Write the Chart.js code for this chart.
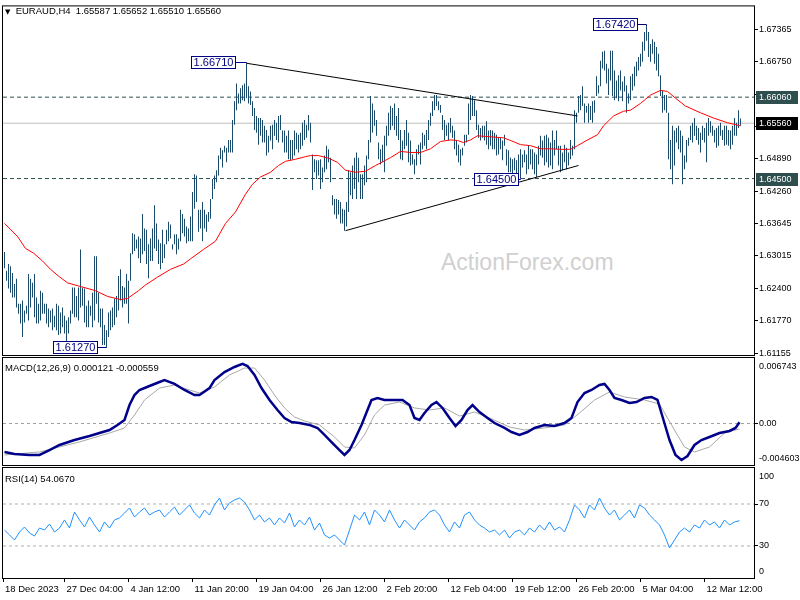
<!DOCTYPE html>
<html>
<head>
<meta charset="utf-8">
<script src="https://cdn.jsdelivr.net/npm/chart.js@4.4.1/dist/chart.umd.min.js"></script>
<style>
    body { margin: 0; background: #fff; }
    #wrap { position: relative; width: 800px; height: 600px; background: #fff; overflow: hidden; font-family: "Liberation Sans", Arial, sans-serif; }
    canvas { position: absolute; left: 0; }
    .titulo { position: absolute; font-size: 9.5px; line-height: 11px; color: #000; white-space: pre; }
    #marca { position: absolute; left: 441px; top: 249px; font-size: 23px; line-height: 26px; color: #d0d0d0; }
</style>
</head>
<body>
<div id="wrap">
    <div id="marca">ActionForex.com</div>
    <canvas id="cPreco" width="800" height="362" style="top:0"></canvas>
    <canvas id="cMacd" width="800" height="112" style="top:355px"></canvas>
    <canvas id="cRsi" width="800" height="134" style="top:466px"></canvas>
    <div class="titulo" style="left:5px;top:5px"><span style="font-family:'DejaVu Sans';font-size:7px">▼</span>  EURAUD,H4  1.65587 1.65652 1.65510 1.65560</div>
    <div class="titulo" style="left:5px;top:362px">MACD(12,26,9) 0.000121 -0.000559</div>
    <div class="titulo" style="left:5px;top:473px">RSI(14) 54.0670</div>
</div>
<script>
// EURAUD H4 — barras (índice 0 = primeira barra visível)
const highs = [
    1.6309,1.6273,1.6286,1.6282,1.6269,1.6248,1.6258,1.6210,1.6210,1.6216,
    1.6197,1.6206,1.6267,1.6258,1.6250,1.6267,1.6222,1.6210,1.6235,1.6231,
    1.6210,1.6210,1.6201,1.6197,1.6201,1.6187,1.6210,1.6206,1.6193,1.6203,
    1.6187,1.6178,1.6184,1.6197,1.6241,1.6241,1.6225,1.6241,1.6314,1.6241,
    1.6239,1.6206,1.6216,1.6206,1.6231,1.6301,1.6301,1.6231,1.6201,1.6201,
    1.6169,1.6159,1.6193,1.6197,1.6203,1.6220,1.6225,1.6263,1.6276,1.6244,
    1.6241,1.6267,1.6254,1.6307,1.6345,1.6343,1.6333,1.6339,1.6335,1.6382,
    1.6354,1.6352,1.6324,1.6335,1.6354,1.6399,1.6364,1.6333,1.6326,1.6352,
    1.6324,1.6352,1.6367,1.6362,1.6324,1.6343,1.6343,1.6335,1.6390,1.6382,
    1.6373,1.6358,1.6354,1.6377,1.6424,1.6458,1.6456,1.6390,1.6390,1.6405,
    1.6390,1.6381,1.6386,1.6411,1.6449,1.6456,1.6466,1.6494,1.6509,1.6504,
    1.6513,1.6509,1.6524,1.6524,1.6562,1.6598,1.6632,1.6613,1.6623,1.6629,
    1.6632,1.6671,1.6627,1.6617,1.6598,1.6585,1.6570,1.6566,1.6566,1.6562,
    1.6551,1.6543,1.6532,1.6551,1.6553,1.6562,1.6557,1.6570,1.6572,1.6542,
    1.6542,1.6532,1.6542,1.6524,1.6524,1.6542,1.6538,1.6534,1.6538,1.6557,
    1.6562,1.6553,1.6572,1.6557,1.6496,1.6487,1.6485,1.6485,1.6487,1.6471,
    1.6494,1.6513,1.6506,1.6490,1.6418,1.6411,1.6411,1.6409,1.6405,1.6392,
    1.6390,1.6405,1.6466,1.6462,1.6475,1.6490,1.6500,1.6490,1.6458,1.6458,
    1.6475,1.6494,1.6524,1.6608,1.6594,1.6581,1.6562,1.6519,1.6506,1.6515,
    1.6532,1.6551,1.6576,1.6589,1.6585,1.6594,1.6570,1.6585,1.6543,1.6523,
    1.6543,1.6562,1.6538,1.6523,1.6496,1.6487,1.6506,1.6515,1.6519,1.6538,
    1.6534,1.6543,1.6562,1.6576,1.6598,1.6610,1.6610,1.6598,1.6591,1.6572,
    1.6562,1.6553,1.6557,1.6566,1.6551,1.6542,1.6524,1.6515,1.6506,1.6509,
    1.6534,1.6534,1.6594,1.6610,1.6608,1.6600,1.6581,1.6553,1.6547,1.6551,
    1.6551,1.6560,1.6542,1.6543,1.6542,1.6538,1.6534,1.6528,1.6528,1.6523,
    1.6534,1.6506,1.6504,1.6490,1.6487,1.6490,1.6485,1.6496,1.6506,1.6496,
    1.6504,1.6496,1.6513,1.6506,1.6506,1.6500,1.6496,1.6513,1.6532,1.6523,
    1.6532,1.6534,1.6528,1.6519,1.6542,1.6524,1.6542,1.6513,1.6513,1.6500,
    1.6515,1.6509,1.6500,1.6524,1.6513,1.6581,1.6576,1.6608,1.6610,1.6627,
    1.6594,1.6589,1.6594,1.6589,1.6598,1.6600,1.6646,1.6629,1.6676,1.6693,
    1.6695,1.6670,1.6661,1.6695,1.6695,1.6657,1.6638,1.6648,1.6657,1.6636,
    1.6646,1.6629,1.6613,1.6646,1.6651,1.6665,1.6674,1.6683,1.6689,1.6712,
    1.6731,1.6742,1.6731,1.6708,1.6717,1.6712,1.6702,1.6689,1.6648,1.6619,
    1.6610,1.6610,1.6576,1.6524,1.6551,1.6542,1.6547,1.6551,1.6542,1.6532,
    1.6494,1.6524,1.6528,1.6551,1.6557,1.6566,1.6551,1.6547,1.6538,1.6551,
    1.6547,1.6557,1.6566,1.6560,1.6551,1.6543,1.6547,1.6551,1.6557,1.6543,
    1.6551,1.6551,1.6543,1.6542,1.6551,1.6566,1.6557,1.6581,1.65652
]
const lows = [
    1.6278,1.6254,1.6239,1.6231,1.6222,1.6222,1.6203,1.6191,1.6172,1.6146,
    1.6174,1.6191,1.6178,1.6203,1.6222,1.6184,1.6172,1.6172,1.6178,1.6191,
    1.6191,1.6172,1.6165,1.6174,1.6159,1.6165,1.6159,1.6150,1.6153,1.6165,
    1.6153,1.6136,1.6153,1.6172,1.6191,1.6184,1.6184,1.6178,1.6203,1.6206,
    1.6174,1.6165,1.6165,1.6187,1.6165,1.6178,1.6210,1.6174,1.6165,1.6131,
    1.6131,1.6127,1.6146,1.6159,1.6165,1.6169,1.6184,1.6197,1.6216,1.6203,
    1.6210,1.6210,1.6172,1.6254,1.6305,1.6311,1.6316,1.6297,1.6288,1.6305,
    1.6311,1.6286,1.6259,1.6292,1.6292,1.6316,1.6311,1.6286,1.6276,1.6288,
    1.6297,1.6324,1.6330,1.6335,1.6314,1.6324,1.6305,1.6314,1.6330,1.6345,
    1.6339,1.6326,1.6330,1.6330,1.6330,1.6392,1.6405,1.6348,1.6354,1.6330,
    1.6354,1.6348,1.6367,1.6373,1.6411,1.6430,1.6443,1.6456,1.6487,1.6471,
    1.6500,1.6481,1.6500,1.6500,1.6500,1.6553,1.6581,1.6594,1.6594,1.6600,
    1.6598,1.6604,1.6594,1.6591,1.6570,1.6543,1.6538,1.6515,1.6532,1.6519,
    1.6519,1.6494,1.6500,1.6523,1.6506,1.6532,1.6524,1.6519,1.6543,1.6519,
    1.6500,1.6500,1.6487,1.6485,1.6487,1.6494,1.6506,1.6500,1.6506,1.6513,
    1.6524,1.6528,1.6542,1.6519,1.6428,1.6462,1.6449,1.6456,1.6430,1.6443,
    1.6462,1.6468,1.6481,1.6443,1.6399,1.6381,1.6373,1.6381,1.6364,1.6364,
    1.6350,1.6358,1.6386,1.6418,1.6411,1.6430,1.6411,1.6443,1.6411,1.6411,
    1.6437,1.6443,1.6487,1.6519,1.6538,1.6551,1.6532,1.6487,1.6477,1.6481,
    1.6462,1.6513,1.6532,1.6543,1.6551,1.6543,1.6532,1.6524,1.6487,1.6485,
    1.6506,1.6513,1.6481,1.6475,1.6477,1.6458,1.6475,1.6496,1.6477,1.6506,
    1.6513,1.6506,1.6524,1.6551,1.6570,1.6581,1.6589,1.6581,1.6576,1.6543,
    1.6524,1.6532,1.6523,1.6538,1.6528,1.6506,1.6494,1.6481,1.6475,1.6494,
    1.6513,1.6519,1.6534,1.6562,1.6570,1.6570,1.6543,1.6528,1.6523,1.6528,
    1.6523,1.6515,1.6506,1.6513,1.6506,1.6506,1.6494,1.6496,1.6506,1.6485,
    1.6513,1.6475,1.6462,1.6462,1.6456,1.6466,1.6458,1.6458,1.6450,1.6471,
    1.6481,1.6458,1.6468,1.6477,1.6468,1.6458,1.6453,1.6477,1.6494,1.6490,
    1.6475,1.6481,1.6471,1.6475,1.6468,1.6494,1.6506,1.6475,1.6462,1.6466,
    1.6481,1.6468,1.6475,1.6487,1.6494,1.6506,1.6557,1.6576,1.6581,1.6589,
    1.6557,1.6576,1.6557,1.6562,1.6557,1.6576,1.6608,1.6613,1.6627,1.6661,
    1.6657,1.6632,1.6610,1.6638,1.6608,1.6600,1.6604,1.6598,1.6619,1.6598,
    1.6617,1.6576,1.6594,1.6600,1.6619,1.6627,1.6646,1.6657,1.6665,1.6674,
    1.6695,1.6714,1.6683,1.6674,1.6689,1.6670,1.6657,1.6646,1.6608,1.6576,
    1.6581,1.6576,1.6487,1.6468,1.6439,1.6475,1.6519,1.6506,1.6500,1.6439,
    1.6468,1.6481,1.6513,1.6524,1.6519,1.6532,1.6524,1.6515,1.6500,1.6524,
    1.6519,1.6481,1.6532,1.6538,1.6532,1.6519,1.6509,1.6513,1.6532,1.6524,
    1.6513,1.6515,1.6513,1.6506,1.6515,1.6532,1.6532,1.6547,1.6551
]

// média móvel (linha vermelha)
const mediaBars = [0,6.5,10.5,14.5,19,23,27,31.5,38,45.5,51.5,58,61.5,67,70.5,76.5,83,89.5,93,99.5,105.5,110.5,115.5,120.5,124,128,133,137,140.5,145.5,150.5,153,157,162,166.5,170.5,175.5,180.5,185.5,193,198,203,208,213,218,223,226.5,229.5,233,236.5,243,249.5,253,258,263,268,273,278,283,286.5,291.5,296.5,299.5,304.5,309.5,313,318,323,328,331.5,335.5,340.5,348,354.5,361.5,368]
const mediaVals = [1.6364,1.6339,1.6316,1.6307,1.6292,1.6276,1.6263,1.6250,1.6243,1.6235,1.6224,1.6218,1.6220,1.6235,1.6246,1.6261,1.6276,1.6286,1.6296,1.6314,1.6330,1.6364,1.6386,1.6420,1.6439,1.6453,1.6462,1.6475,1.6483,1.6487,1.6492,1.6494,1.6494,1.6489,1.6481,1.6466,1.6462,1.6464,1.6475,1.6490,1.6502,1.6500,1.6500,1.6507,1.6521,1.6524,1.6523,1.6519,1.6524,1.6532,1.6530,1.6528,1.6523,1.6515,1.6513,1.6507,1.6507,1.6506,1.6506,1.6513,1.6524,1.6534,1.6551,1.6570,1.6579,1.6581,1.6594,1.6610,1.6619,1.6617,1.6604,1.6589,1.6576,1.6566,1.6557,1.6551]

// MACD(12,26,9): linha principal e sinal
const macdBars = [0,5,12.5,17.5,22.5,27.5,35,42.5,47.5,52.5,56.5,60,62.5,65,67.5,72.5,77.5,80,85,90,95,97.5,102.5,105,110,115,119,121.5,125,128.5,132.5,136.5,140,143.5,147.5,152.5,156.5,160,164,167.5,170,172.5,175,178.5,181.5,183.5,186.5,190,195,199,202.5,205,207.5,210,213.5,216,219,222.5,225.5,228.5,231.5,234,237.5,241.5,245,250,253.5,257.5,261.5,265,270,275,280,283.5,286.5,290,293.5,297.5,300,302.5,305,308.5,312.5,316,320,323.5,326.5,329.5,332.5,335.5,338.5,341.5,345,348.5,352.5,357.5,362.5,365.5,367.5]
const macdVals = [-0.00293,-0.00314,-0.00324,-0.00324,-0.00273,-0.00221,-0.00170,-0.00129,-0.00098,-0.00067,-0.00015,0.00036,0.00190,0.00293,0.00345,0.00386,0.00427,0.00448,0.00407,0.00345,0.00293,0.00293,0.00365,0.00448,0.00530,0.00582,0.00613,0.00592,0.00499,0.00365,0.00242,0.00139,0.00057,0.00015,0.00005,-0.00015,-0.00046,-0.00118,-0.00201,-0.00273,-0.00324,-0.00273,-0.00170,-0.00015,0.00139,0.00242,0.00263,0.00242,0.00242,0.00242,0.00190,0.00057,0.00036,0.00108,0.00190,0.00221,0.00160,0.00057,-0.00026,0.00036,0.00139,0.00190,0.00118,0.00057,0.00005,-0.00046,-0.00088,-0.00118,-0.00088,-0.00046,-0.00015,-0.00026,0.00005,0.00057,0.00221,0.00314,0.00345,0.00396,0.00407,0.00345,0.00263,0.00242,0.00211,0.00221,0.00263,0.00273,0.00242,0.00036,-0.00170,-0.00324,-0.00376,-0.00335,-0.00221,-0.00170,-0.00139,-0.00098,-0.00077,-0.00046,0.00012]
const sinalBars = [0,17.5,37.5,52.5,60,65,70,77.5,85,92.5,97.5,105,112.5,120,125,130,135,140,145,150,157.5,165,170,175,180,185,190,197.5,205,212.5,220,227.5,235,242.5,252.5,260,270,280,287.5,295,302.5,310,320,327.5,333.5,340,345,352.5,360,367.5]
const sinalVals = [-0.00324,-0.00293,-0.00190,-0.00098,-0.00046,0.00088,0.00242,0.00365,0.00396,0.00345,0.00314,0.00376,0.00499,0.00571,0.00571,0.00448,0.00293,0.00160,0.00067,0.00026,-0.00015,-0.00139,-0.00242,-0.00252,-0.00118,0.00088,0.00190,0.00221,0.00160,0.00139,0.00160,0.00077,0.00118,0.00057,-0.00036,-0.00067,-0.00046,-0.00015,0.00108,0.00242,0.00324,0.00273,0.00242,0.00201,-0.00015,-0.00242,-0.00293,-0.00242,-0.00098,-0.00056]

// RSI(14), lido a cada 2,5 barras
const rsiBars = [
    0,2.5,5,7.5,10,12.5,15,17.5,20,22.5,25,27.5,30,32.5,35,37.5,40,42.5,45,47.5,
    50,52.5,55,57.5,60,62.5,65,67.5,70,72.5,75,77.5,80,82.5,85,87.5,90,92.5,95,97.5,
    100,102.5,105,107.5,110,112.5,115,117.5,120,122.5,125,127.5,130,132.5,135,137.5,140,142.5,145,147.5,
    150,152.5,155,157.5,160,162.5,165,167.5,170,172.5,175,177.5,180,182.5,185,187.5,190,192.5,195,197.5,
    200,202.5,205,207.5,210,212.5,215,217.5,220,222.5,225,227.5,230,232.5,235,237.5,240,242.5,245,247.5,
    250,252.5,255,257.5,260,262.5,265,267.5,270,272.5,275,277.5,280,282.5,285,287.5,290,292.5,295,297.5,
    300,302.5,305,307.5,310,312.5,315,317.5,320,322.5,325,327.5,330,332.5,335,337.5,340,342.5,345,347.5,
    350,352.5,355,357.5,360,362.5,365,367.5
]
const rsiVals = [
    45.2,40.5,35.7,43.3,48.1,42.4,39.5,47.1,45.2,50.9,
    43.3,47.1,54.8,47.1,62.4,54.8,48.1,57.6,50.0,43.3,
    52.9,47.1,54.8,56.7,61.4,66.2,57.6,62.4,66.2,59.5,
    62.4,64.3,57.6,62.4,67.1,59.5,64.3,69.1,61.4,56.7,
    64.3,59.5,69.1,75.7,64.3,71.0,73.8,75.7,71.9,64.3,
    54.8,59.5,52.9,56.7,50.0,56.7,51.9,61.4,48.1,54.8,
    50.0,57.6,45.2,51.9,40.5,37.6,40.5,35.7,30.9,45.2,
    59.5,54.8,62.4,50.0,64.3,59.5,52.9,64.3,54.8,47.1,
    54.8,50.0,45.2,52.9,56.7,62.4,64.3,59.5,50.0,43.3,
    52.9,47.1,59.5,62.4,54.8,50.0,47.1,43.3,45.2,40.5,
    45.2,37.6,43.3,45.2,40.5,47.1,43.3,50.0,45.2,52.9,
    45.2,48.1,43.3,54.8,69.1,64.3,56.7,69.1,64.3,75.7,
    66.2,59.5,64.3,54.8,59.5,64.3,56.7,69.1,66.2,59.5,
    54.8,50.0,40.5,28.1,35.7,43.3,47.1,43.3,50.0,47.1,
    54.8,50.0,52.9,47.1,54.8,50.0,52.9,54.1
]

const precoTicks = [1.67365, 1.6675, 1.6612, 1.65505, 1.6489, 1.6426, 1.63645, 1.63015, 1.624, 1.6177, 1.61155]
const macdTicks = [0.006743, 0, -0.004603]
const macdTextos = ['0.006743', '0.00', '-0.004603']
const rsiTicks = [100, 70, 30, 0]
const xTickBars = [-0.75, 30, 62, 94, 126, 158, 190, 222, 254, 286, 318, 350]
const xTickTextos = ['18 Dec 2023', '27 Dec 04:00', '4 Jan 12:00', '11 Jan 20:00', '19 Jan 04:00', '26 Jan 12:00', '2 Feb 20:00', '12 Feb 04:00', '19 Feb 12:00', '26 Feb 20:00', '5 Mar 04:00', '12 Mar 12:00']

// níveis, linhas de tendência e etiquetas
const niveis = [1.6606, 1.6556, 1.6450]
const tendSupBars = [121, 286.5], tendSupVals = [1.6671, 1.6570]
const tendInfBars = [170.5, 287], tendInfVals = [1.6350, 1.6475]
const notaBars = [121, 51, 258, 321]
const notaVals = [1.6671, 1.6127, 1.6450, 1.6742]

const FONTE = '"Liberation Sans", Arial, sans-serif'
const XMIN = -0.75, XMAX = 374.75
const COR_BARRA = '#1b4b6b'

Chart.defaults.font.family = FONTE
Chart.defaults.font.size = 9.5
Chart.defaults.color = '#000'
Chart.defaults.animation = false
Chart.defaults.events = []
Chart.defaults.plugins.legend.display = false
Chart.defaults.plugins.tooltip.enabled = false

const pts = (xs, ys) => xs.map((x, i) => ({ x: x, y: ys[i] }))

function linhaH(v, cor, tracejado) {
    return {
        type: 'line', data: [{ x: XMIN, y: v }, { x: XMAX, y: v }],
        borderColor: cor, borderWidth: 1, borderDash: tracejado, pointRadius: 0, order: 3
    }
}

const moldura = {
    id: 'moldura',
    afterDraw(chart) {
        const { ctx, chartArea: a } = chart
        ctx.save()
        ctx.strokeStyle = '#000'
        ctx.lineWidth = 1
        ctx.strokeRect(a.left - 0.5, a.top - 0.5, a.right - a.left + 1, a.bottom - a.top + 1)
        ctx.restore()
    }
}

const rotulosLado = {
    id: 'rotulosLado',
    afterDraw(chart, args, opts) {
        const { ctx, chartArea: a, scales: { y } } = chart
        ctx.save()
        ctx.font = '9px ' + FONTE
        ctx.fillStyle = '#000'
        ctx.textBaseline = 'middle'
        opts.valores.forEach((v, i) => {
            const py = Math.min(Math.max(y.getPixelForValue(v), a.top + 9), a.bottom - 6)
            ctx.fillText(opts.textos[i], a.right + 5, py)
        })
        ctx.restore()
    }
}

const marcas = {
    id: 'marcas',
    afterDraw(chart) {
        const { ctx, chartArea: a, scales: { x, y } } = chart
        ctx.save()
        // caixas de preço no eixo
        const fundos = ['#2f4f4f', '#000000', '#2f4f4f']
        ctx.font = '9px ' + FONTE
        ctx.textBaseline = 'middle'
        niveis.forEach((v, i) => {
            const py = Math.round(y.getPixelForValue(v))
            ctx.fillStyle = fundos[i]
            ctx.fillRect(a.right + 2, py - 6, 42, 13)
            ctx.fillStyle = '#fff'
            ctx.fillText(v.toFixed(5), a.right + 5, py + 0.5)
        })
        // etiquetas de máximos e mínimos
        const desloc = [11, 10, 3, 10]
        const sobe = [1, 0, 0, 2]
        ctx.font = '11px ' + FONTE
        notaVals.forEach((v, i) => {
            const px = x.getPixelForValue(notaBars[i])
            const py = y.getPixelForValue(v)
            const cy = Math.round(py - sobe[i]) + 0.5
            const txt = v.toFixed(5)
            const w = Math.ceil(ctx.measureText(txt).width) + 4
            const dir = Math.round(px - desloc[i]) + 0.5
            ctx.fillStyle = '#fff'
            ctx.fillRect(dir - w, cy - 6, w, 12)
            ctx.strokeStyle = '#000080'
            ctx.lineWidth = 1
            ctx.strokeRect(dir - w, cy - 6, w, 12)
            ctx.beginPath()
            ctx.moveTo(dir, cy)
            ctx.lineTo(px, cy)
            ctx.lineTo(px, py)
            ctx.stroke()
            ctx.fillStyle = '#000080'
            ctx.textAlign = 'center'
            ctx.fillText(txt, dir - w / 2, cy + 0.5)
        })
        ctx.restore()
    }
}

const eixoY = (min, max, extra) => Object.assign({
    position: 'right', min: min, max: max,
    afterFit: s => { s.width = 46 },
    grid: { drawOnChartArea: false, drawTicks: true, tickLength: 4, color: '#000' },
    border: { display: false }
}, extra)

const eixoXOculto = { type: 'linear', min: XMIN, max: XMAX, offset: false, display: false }

const barras = highs.map((h, i) => ({ x: i, y: [lows[i], h] }))

new Chart(document.getElementById('cPreco'), {
    type: 'bar',
    data: {
        datasets: [
            { type: 'bar', data: barras, backgroundColor: COR_BARRA, barThickness: 1, borderWidth: 0, inflateAmount: 0, order: 2 },
            { type: 'line', data: pts(mediaBars, mediaVals), borderColor: '#ff0000', borderWidth: 1, pointRadius: 0, order: 1 },
            { type: 'line', data: pts(tendSupBars, tendSupVals), borderColor: '#000', borderWidth: 1, pointRadius: 0, order: 0 },
            { type: 'line', data: pts(tendInfBars, tendInfVals), borderColor: '#000', borderWidth: 1, pointRadius: 0, order: 0 },
            linhaH(niveis[0], '#2f4f4f', [4, 3]),
            linhaH(niveis[1], '#c0c0c0', []),
            linhaH(niveis[2], '#2f4f4f', [4, 3])
        ]
    },
    options: {
        responsive: false,
        layout: { padding: { left: 3, top: 2, right: 0, bottom: 7 } },
        scales: {
            x: eixoXOculto,
            y: eixoY(1.61117, 1.67800, {
                afterBuildTicks: s => { s.ticks = precoTicks.map(v => ({ value: v })) },
                ticks: { padding: 1, font: { size: 9 }, callback: v => v.toFixed(5) }
            })
        }
    },
    plugins: [moldura, marcas]
})

new Chart(document.getElementById('cMacd'), {
    type: 'line',
    data: {
        datasets: [
            { data: pts(macdBars, macdVals), borderColor: '#00008b', borderWidth: 2.5, pointRadius: 0, order: 1 },
            { data: pts(sinalBars, sinalVals), borderColor: '#a8a8a8', borderWidth: 1, pointRadius: 0, order: 2 },
            linhaH(0, '#a0a0a0', [3, 3])
        ]
    },
    options: {
        responsive: false,
        layout: { padding: { left: 3, top: 3, right: 0, bottom: 2 } },
        scales: {
            x: eixoXOculto,
            y: eixoY(-0.004273, 0.006743, {
                afterBuildTicks: s => { s.ticks = [{ value: 0 }] },
                ticks: { display: false }
            })
        },
        plugins: { rotulosLado: { valores: macdTicks, textos: macdTextos } }
    },
    plugins: [moldura, rotulosLado]
})

new Chart(document.getElementById('cRsi'), {
    type: 'line',
    data: {
        datasets: [
            { data: pts(rsiBars, rsiVals), borderColor: '#1e90ff', borderWidth: 1, pointRadius: 0, order: 1 },
            linhaH(70, '#b0b0b0', [3, 3]),
            linhaH(30, '#b0b0b0', [3, 3])
        ]
    },
    options: {
        responsive: false,
        layout: { padding: { left: 3, top: 2, right: 0, bottom: 0 } },
        scales: {
            x: {
                type: 'linear', min: XMIN, max: XMAX, offset: false,
                afterBuildTicks: s => { s.ticks = xTickBars.map(v => ({ value: v })) },
                afterFit: s => { s.height = 22 },
                ticks: { autoSkip: false, maxRotation: 0, align: 'start', labelOffset: 2, padding: 2, callback: (v, i) => xTickTextos[i] },
                grid: { drawOnChartArea: false, drawTicks: true, tickLength: 4, color: '#000' },
                border: { display: false }
            },
            y: eixoY(-0.5, 104.3, {
                afterBuildTicks: s => { s.ticks = [{ value: 70 }, { value: 30 }] },
                ticks: { display: false }
            })
        },
        plugins: { rotulosLado: { valores: rsiTicks, textos: rsiTicks.map(String) } }
    },
    plugins: [moldura, rotulosLado]
})
</script>
</body>
</html>
